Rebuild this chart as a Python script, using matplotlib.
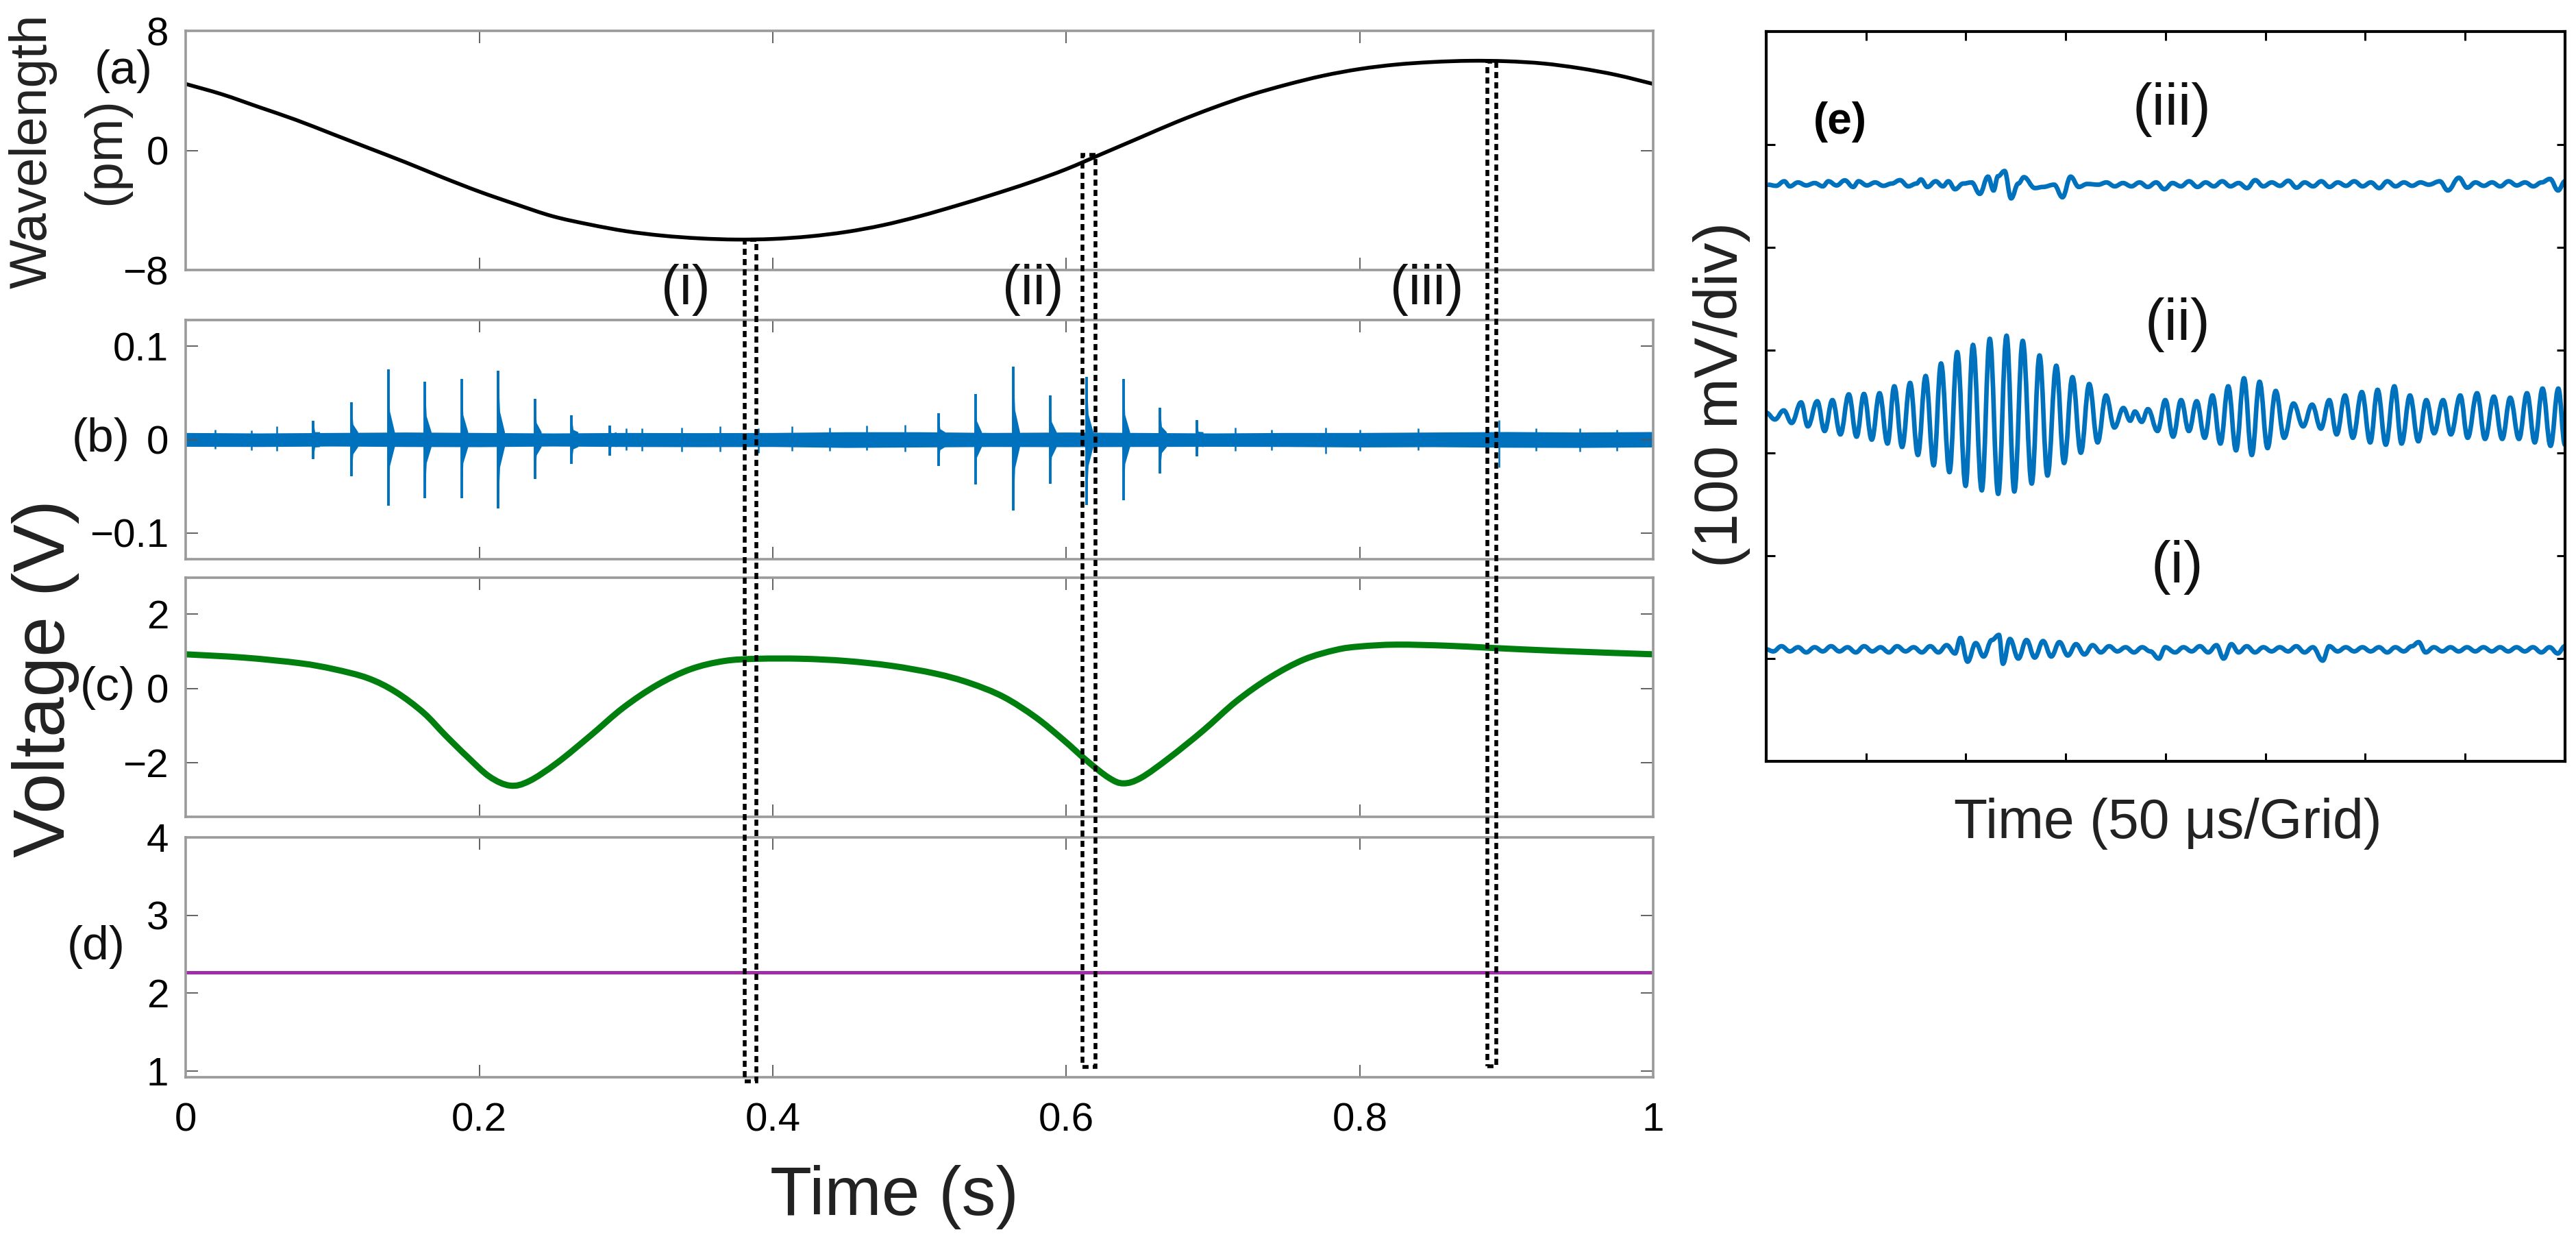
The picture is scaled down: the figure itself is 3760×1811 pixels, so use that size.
import matplotlib
matplotlib.use("Agg")
import matplotlib.pyplot as plt
from matplotlib.path import Path
from matplotlib.patches import PathPatch, Rectangle

plt.rcParams['font.family'] = ['Liberation Sans', 'DejaVu Sans']

# -------------------------
# data
# -------------------------
# (a) wavelength shift (pm)
t_a = [0, 0.025, 0.05, 0.075, 0.1, 0.125, 0.15, 0.175, 0.2, 0.225, 0.25, 0.275, 0.3, 0.325,
       0.35, 0.375, 0.4, 0.425, 0.45, 0.475, 0.5, 0.525, 0.55, 0.575, 0.6, 0.625, 0.65,
       0.675, 0.7, 0.725, 0.75, 0.775, 0.8, 0.825, 0.85, 0.875, 0.9, 0.925, 0.95, 0.975, 1.0]
wl_a = [4.45, 3.75, 2.9, 2.05, 1.1, 0.15, -0.8, -1.8, -2.75, -3.6, -4.4, -4.95, -5.4, -5.7,
        -5.88, -5.96, -5.92, -5.75, -5.45, -5.0, -4.4, -3.7, -2.95, -2.15, -1.25, -0.2, 0.85,
        1.9, 2.85, 3.7, 4.4, 5.0, 5.45, 5.75, 5.92, 6.0, 5.97, 5.82, 5.5, 5.05, 4.45]

# (b) acoustic signal: background band, small ripples and main bursts (V)
band_t = [0, 0.05, 0.1, 0.15, 0.2, 0.25, 0.3, 0.35, 0.4, 0.45, 0.5, 0.55, 0.6, 0.65, 0.7,
          0.75, 0.8, 0.85, 0.9, 0.95, 1.0]
band_hi = [0.0075, 0.0070, 0.0075, 0.0080, 0.0075, 0.0070, 0.0075, 0.0073, 0.0075, 0.0083,
           0.0083, 0.0075, 0.0080, 0.0075, 0.0070, 0.0075, 0.0075, 0.0080, 0.0085, 0.0080, 0.0085]
band_lo = [-0.0073, -0.0075, -0.0070, -0.0075, -0.0077, -0.0070, -0.0075, -0.0077, -0.0075,
           -0.0085, -0.0080, -0.0075, -0.0077, -0.0075, -0.0073, -0.0075, -0.0080, -0.0077,
           -0.0083, -0.0085, -0.0080]
ripple_t = [0.02, 0.045, 0.062, 0.30, 0.311, 0.338, 0.364, 0.39, 0.413, 0.439, 0.464, 0.49,
            0.715, 0.74, 0.777, 0.80, 0.84, 0.895, 0.92, 0.95, 0.975]
ripple_up = [0.011, 0.010, 0.014, 0.012, 0.012, 0.013, 0.014, 0.012, 0.014, 0.013, 0.015,
             0.016, 0.013, 0.011, 0.013, 0.011, 0.012, 0.021, 0.012, 0.012, 0.011]
ripple_dn = [-0.010, -0.011, -0.012, -0.011, -0.012, -0.013, -0.013, -0.014, -0.012, -0.012,
             -0.011, -0.013, -0.012, -0.011, -0.015, -0.012, -0.011, -0.030, -0.012, -0.013, -0.012]
spike_t = [0.087, 0.113, 0.138, 0.163, 0.188, 0.213, 0.238, 0.263, 0.289,
           0.513, 0.538, 0.564, 0.589, 0.614, 0.639, 0.664, 0.689]
spike_up = [0.020, 0.040, 0.075, 0.062, 0.065, 0.074, 0.044, 0.026, 0.015,
            0.028, 0.049, 0.078, 0.047, 0.067, 0.065, 0.034, 0.021]
spike_dn = [-0.021, -0.039, -0.071, -0.063, -0.063, -0.074, -0.042, -0.026, -0.017,
            -0.028, -0.048, -0.076, -0.047, -0.070, -0.065, -0.036, -0.018]

# (c) voltage (V)
t_c = [0, 0.040, 0.078, 0.101, 0.124, 0.143, 0.162, 0.177, 0.192, 0.207, 0.221, 0.234, 0.253,
       0.276, 0.298, 0.321, 0.344, 0.367, 0.390, 0.420, 0.450, 0.481, 0.511, 0.534, 0.557,
       0.579, 0.598, 0.614, 0.629, 0.639, 0.651, 0.670, 0.693, 0.716, 0.739, 0.762, 0.784,
       0.800, 0.825, 0.860, 0.891, 0.936, 1.0]
v_c = [0.92, 0.83, 0.68, 0.52, 0.28, -0.09, -0.65, -1.26, -1.84, -2.37, -2.61, -2.49, -2.0,
       -1.26, -0.52, 0.09, 0.52, 0.74, 0.80, 0.80, 0.74, 0.61, 0.40, 0.15, -0.22,
       -0.77, -1.38, -1.94, -2.40, -2.55, -2.40, -1.87, -1.14, -0.34, 0.30, 0.78, 1.04,
       1.13, 1.18, 1.15, 1.09, 1.01, 0.92]

# (d) voltage (V)
t_d = [0, 0.5, 1.0]
v_d = [2.27, 2.27, 2.27]

# dotted selection boxes: time span, top on curve (a), bottom in (d) units
box_t0 = [0.381, 0.611, 0.887]
box_t1 = [0.389, 0.620, 0.893]
box_top = [-5.96, -0.3, 5.95]
box_bot = [0.87, 1.05, 1.06]
box_names = ["(i)", "(ii)", "(iii)"]
box_label_t = [0.3405, 0.5775, 0.8455]

# (e) waveforms, time in us, amplitude in mV
e_offsets = [109, 337, 561]
i_t = [0, 3.6, 7.7, 11.9, 16.0, 20.1, 24.3, 28.4, 32.5, 36.7, 40.8, 44.9, 49.1, 53.2, 57.3,
       61.5, 65.6, 69.8, 73.9, 78.0, 82.2, 86.3, 90.4, 94.6, 97.3, 100.9, 105.0, 108.9, 113.0,
       116.6, 118.6, 122.1, 126.3, 130.4, 134.5, 138.7, 142.8, 146.9, 151.1, 155.2, 159.4,
       163.5, 167.6, 171.8, 175.9, 180.0, 184.2, 188.3, 192.4, 196.6, 199.9, 204.8, 209.0,
       213.1, 217.2, 221.4, 225.5, 229.1, 233.0, 236.6, 240.7, 244.8, 249.0, 253.1, 257.2,
       261.4, 265.5, 269.6, 273.8, 278.7, 282.0, 286.2, 290.3, 294.5, 298.6, 302.7, 306.9,
       311.0, 315.1, 319.3, 323.4, 326.7, 330.3, 334.4, 338.6, 342.7, 346.8, 351.0, 355.1,
       359.2, 363.4, 367.5, 371.6, 375.8, 379.9, 384.0, 388.2, 392.3, 396.4, 400.0]
i_v = [0, -2, 3, -2, 2, -3, 2, -2, 3, -2, 2, -3, 3, -2, 2, -3, 3, -2, 2, -3, 3, -3, 4, -4,
       11, -12, 6, -7, 9, 14, -14, 10, -9, 9, -8, 8, -7, 7, -6, 5, -5, 4, -3, 3, -2, 2, -3,
       2, -2, -9, 2, -3, 2, -2, 3, -3, 4, -9, 5, -3, 3, -3, 2, -2, 2, -2, 3, -3, 2, -11, 3,
       -2, 2, -2, 2, -2, 2, -3, 2, -2, 3, 7, -3, 2, -2, 2, -2, 2, -2, 2, -2, 2, -2, 2, -2,
       2, -3, 2, -4, 3]
ii_t = [0, 4.4, 8.8, 12.8, 17.5, 20.9, 25.6, 29.3, 33.2, 37.2, 41.4, 45.3, 49.0, 52.9, 56.8,
        60.8, 64.2, 68.1, 72.1, 76.0, 79.9, 83.9, 87.6, 91.8, 95.7, 99.9, 103.6, 108.0, 112.0,
        116.2, 120.4, 124.3, 128.5, 133.0, 136.9, 140.9, 145.3, 149.2, 153.4, 157.6, 161.8,
        166.0, 170.2, 174.4, 178.9, 182.3, 184.7, 188.1, 191.2, 196.0, 199.9, 203.8, 207.8,
        211.7, 215.6, 219.6, 223.5, 227.5, 231.4, 235.3, 239.3, 243.2, 247.1, 251.1, 255.2,
        259.4, 264.1, 268.9, 273.4, 277.8, 282.0, 285.7, 289.9, 293.8, 298.3, 302.5, 306.2,
        310.3, 314.6, 318.2, 322.4, 326.6, 330.6, 334.5, 339.0, 342.9, 347.6, 351.3, 356.0,
        360.0, 364.4, 368.6, 372.6, 377.0, 381.0, 384.9, 388.8, 392.8, 396.7, 400.0]
ii_v = [2.2, -4.4, 4.4, -7.8, 12.2, -11.1, 13.3, -15.6, 14.4, -18.9, 20.0, -21.1, 20.4, -24.0,
        21.1, -27.8, 27.8, -31.1, 31.1, -38.9, 37.8, -48.9, 50.0, -55.6, 61.1, -68.9, 68.0,
        -73.3, 74.0, -76.7, 77.0, -74.4, 72.0, -66.7, 57.8, -58.9, 47.8, -46.7, 36.7, -36.7,
        30.0, -26.7, 18.9, -12.2, 6.7, -5.6, 3.3, -6.7, 5.6, -15.6, 14.4, -21.1, 14.4, -15.6,
        13.3, -22.2, 18.9, -27.8, 27.8, -34.4, 35.6, -38.9, 32.2, -32.2, 23.3, -22.2, 11.1,
        -11.1, 10.0, -13.3, 14.4, -18.9, 18.9, -22.2, 22.2, -26.7, 24.4, -28.9, 27.8, -27.8,
        18.9, -25.6, 14.4, -17.8, 14.4, -18.9, 18.9, -22.2, 21.1, -23.3, 17.8, -23.3, 16.7,
        -23.3, 21.1, -26.7, 25.6, -30.0, 25.6, -28.9]
iii_t = [0.8, 5.0, 9.1, 11.9, 16.0, 20.1, 24.3, 28.4, 31.2, 35.3, 39.4, 43.6, 46.3, 50.5, 54.6,
         58.7, 62.9, 67.0, 71.2, 75.3, 77.5, 80.8, 84.9, 88.5, 91.3, 94.6, 98.7, 102.9, 107.0,
         111.1, 113.9, 116.1, 119.4, 122.7, 126.3, 129.1, 134.6, 138.7, 144.2, 148.4, 152.5,
         156.6, 160.8, 166.3, 170.4, 174.6, 178.7, 182.9, 187.0, 191.1, 195.3, 199.4, 203.5,
         207.7, 211.8, 216.0, 220.1, 224.2, 228.4, 232.5, 236.6, 240.8, 244.9, 249.0, 253.2,
         257.3, 261.5, 265.6, 269.7, 273.9, 278.0, 282.1, 286.3, 290.4, 294.5, 298.7, 302.8,
         307.0, 311.1, 315.2, 319.4, 323.5, 327.7, 331.8, 337.3, 341.4, 346.9, 351.1, 355.2,
         359.4, 363.5, 367.6, 371.8, 375.9, 380.0, 384.2, 388.3, 392.5, 396.6, 400.0]
iii_v = [0, -1.1, 3.3, -1.6, 2.2, -0.7, 1.6, -1.6, 3.3, -0.7, 4.2, -2.2, 3.3, -0.7, 2.2, -1.1,
         1.1, 4.4, -1.6, 1.1, 5.1, -2.2, 3.3, -1.6, 3.3, -4.4, 1.1, 2.2, -8.9, 7.8, -5.6, 8.2,
         13.3, -13.3, 1.1, 7.3, -3.3, -2.2, 0, -12.2, 7.8, -2.2, 0.7, 0, 2.2, -1.6, 1.6, -1.6,
         2.2, -2.2, 2.2, -4.4, 1.6, -1.6, 3.3, -2.2, 2.2, -1.6, 3.3, -1.6, 1.6, -3.3, 4.4, -1.6,
         2.2, -1.1, 3.8, -2.9, 2.2, -1.6, 3.3, -2.2, 2.2, -1.1, 3.3, -1.6, 2.2, -3.3, 3.3, -1.6,
         2.2, -1.1, 2.2, 0, 3.3, -5.6, 6.7, -2.9, 2.2, -1.1, 2.2, -1.6, 3.3, -0.7, 2.2, -1.6,
         2.2, 5.6, -5.6, 3.3]
e_labels = ["(i)", "(ii)", "(iii)"]
e_label_xy = [(206, 189), (206, 425), (203, 634)]

BLUE = "#0072BD"
GREEN = "#007F0E"
PURPLE = "#9E2FA6"
SPINE_GRAY = "#9a9a9a"
TICK_GRAY = "#555555"


def flat_path(x, y, offset=0.0):
    # connect read extrema with flat-tangent bezier segments
    verts = [(x[0], y[0] + offset)]
    codes = [Path.MOVETO]
    for k in range(1, len(x)):
        dx = x[k] - x[k - 1]
        verts += [(x[k - 1] + 0.4 * dx, y[k - 1] + offset),
                  (x[k] - 0.4 * dx, y[k] + offset),
                  (x[k], y[k] + offset)]
        codes += [Path.CURVE4] * 3
    return Path(verts, codes)


def spline_path(x, y):
    # catmull-rom style bezier through the read points
    n = len(x)
    verts = [(x[0], y[0])]
    codes = [Path.MOVETO]
    for k in range(n - 1):
        p0 = max(k - 1, 0)
        p3 = min(k + 2, n - 1)
        c1 = (x[k] + (x[k + 1] - x[p0]) / 6, y[k] + (y[k + 1] - y[p0]) / 6)
        c2 = (x[k + 1] - (x[p3] - x[k]) / 6, y[k + 1] - (y[p3] - y[k]) / 6)
        verts += [c1, c2, (x[k + 1], y[k + 1])]
        codes += [Path.CURVE4] * 3
    return Path(verts, codes)


fig = plt.figure(figsize=(37.6, 18.11), dpi=100)

L, W, H = 0.0721, 0.5697, 0.1927
ax_a = fig.add_axes([L, 0.7824, W, H])
ax_b = fig.add_axes([L, 0.5494, W, H])
ax_c = fig.add_axes([L, 0.3418, W, H])
ax_d = fig.add_axes([L, 0.1320, W, 0.1933])
ax_e = fig.add_axes([0.6856, 0.3865, 0.3101, 0.5881])

for ax in (ax_a, ax_b, ax_c, ax_d):
    ax.set_xlim(0, 1)
    ax.set_xticks([0, 0.2, 0.4, 0.6, 0.8, 1])
    ax.tick_params(direction="in", length=13, width=1.3, color=TICK_GRAY,
                   top=True, right=True, labelsize=42, pad=18, labelbottom=False)
    for s in ax.spines.values():
        s.set_color(SPINE_GRAY)
        s.set_linewidth(2.6)

# -------------------------
# (a) wavelength
# -------------------------
ax_a.add_patch(PathPatch(spline_path(t_a, wl_a), fill=False, ec="black", lw=4.0))
ax_a.set_ylim(-8, 8)
ax_a.set_yticks([-8, 0, 8])
ax_a.set_yticklabels(["\u22128", "0", "8"])

# -------------------------
# (b) burst signal
# -------------------------
ax_b.fill_between(band_t, band_lo, band_hi, color=BLUE, lw=0)
ax_b.vlines(ripple_t, ripple_dn, ripple_up, color=BLUE, lw=1.8)
for t, up, dn in zip(spike_t, spike_up, spike_dn):
    ax_b.fill([t, t + 0.0012, t + 0.0045, t + 0.0045, t + 0.0012, t],
              [up, up * 0.4, 0.008, -0.008, dn * 0.4, dn], color=BLUE, lw=0)
ax_b.vlines(spike_t, spike_dn, spike_up, color=BLUE, lw=2.8)
ax_b.set_ylim(-0.128, 0.128)
ax_b.set_yticks([-0.1, 0, 0.1])
ax_b.set_yticklabels(["\u22120.1", "0", "0.1"])

# -------------------------
# (c) voltage
# -------------------------
ax_c.add_patch(PathPatch(spline_path(t_c, v_c), fill=False, ec=GREEN, lw=6.5))
ax_c.set_ylim(-3.45, 2.98)
ax_c.set_yticks([-2, 0, 2])
ax_c.set_yticklabels(["\u22122", "0", "2"])

# -------------------------
# (d) voltage
# -------------------------
ax_d.plot(t_d, v_d, color=PURPLE, lw=3.6)
ax_d.set_ylim(0.92, 4.0)
ax_d.set_yticks([1, 2, 3, 4])
ax_d.set_yticklabels(["1", "2", "3", "4"])
ax_d.tick_params(axis="x", labelbottom=True, pad=26)
ax_d.set_xticklabels(["0", "0.2", "0.4", "0.6", "0.8", "1"])

# dotted boxes running from (a) down to (d)
inv = fig.transFigure.inverted()
for t0, t1, top, bot in zip(box_t0, box_t1, box_top, box_bot):
    x0, y1 = inv.transform(ax_a.transData.transform((t0, top)))
    x1, y0 = inv.transform(ax_d.transData.transform((t1, bot)))
    fig.add_artist(Rectangle((x0, y0), x1 - x0, y1 - y0, transform=fig.transFigure,
                             fill=False, ec="black", lw=4.0, ls=(0, (1.6, 1.1)), zorder=20))

# box names between (a) and (b)
for name, tl in zip(box_names, box_label_t):
    fx, _ = inv.transform(ax_a.transData.transform((tl, 0)))
    fig.text(fx, 0.7664, name, fontsize=58, ha="center", va="center", color="#111111")

# panel letters and axis titles of the left column
fig.text(0.0479, 0.9426, "(a)", fontsize=50, ha="center", va="center", color="#111111")
fig.text(0.0391, 0.6461, "(b)", fontsize=50, ha="center", va="center", color="#111111")
fig.text(0.0418, 0.4456, "(c)", fontsize=50, ha="center", va="center", color="#111111")
fig.text(0.0372, 0.2369, "(d)", fontsize=50, ha="center", va="center", color="#111111")
fig.text(0.0128, 0.878, "Wavelength", fontsize=55, rotation=90, ha="center", va="center",
         color="#222222")
fig.text(0.0412, 0.878, "(pm)", fontsize=55, rotation=90, ha="center", va="center",
         color="#222222")
fig.text(0.0178, 0.4533, "Voltage (V)", fontsize=76, rotation=90, ha="center", va="center",
         color="#222222")
fig.text(0.3473, 0.021, "Time (s)", fontsize=72, ha="center", va="baseline", color="#222222")

# -------------------------
# (e) zoomed waveforms
# -------------------------
for xs, ys, off in zip([i_t, ii_t, iii_t], [i_v, ii_v, iii_v], e_offsets):
    ax_e.add_patch(PathPatch(flat_path(xs, ys, off), fill=False, ec=BLUE, lw=4.8))
ax_e.set_xlim(0, 400)
ax_e.set_ylim(0, 710)
ax_e.set_xticks([50, 100, 150, 200, 250, 300, 350])
ax_e.set_yticks([100, 200, 300, 400, 500, 600])
ax_e.tick_params(direction="in", length=9, width=2.2, color="black",
                 top=True, right=True, labelbottom=False, labelleft=False)
for s in ax_e.spines.values():
    s.set_color("black")
    s.set_linewidth(3.0)
for name, (lx, ly) in zip(e_labels, e_label_xy):
    ax_e.text(lx, ly, name, fontsize=62, ha="center", va="center", color="#111111")
ax_e.text(37, 622, "(e)", fontsize=46, fontweight="bold", ha="center", va="center")
fig.text(0.6684, 0.682, "(100 mV/div)", fontsize=64, rotation=90, ha="center", va="center",
         color="#222222")
fig.text(0.8415, 0.3363, "Time (50 \u03bcs/Grid)", fontsize=58, ha="center", va="center",
         color="#222222")

fig.savefig("out.png", dpi=100)
